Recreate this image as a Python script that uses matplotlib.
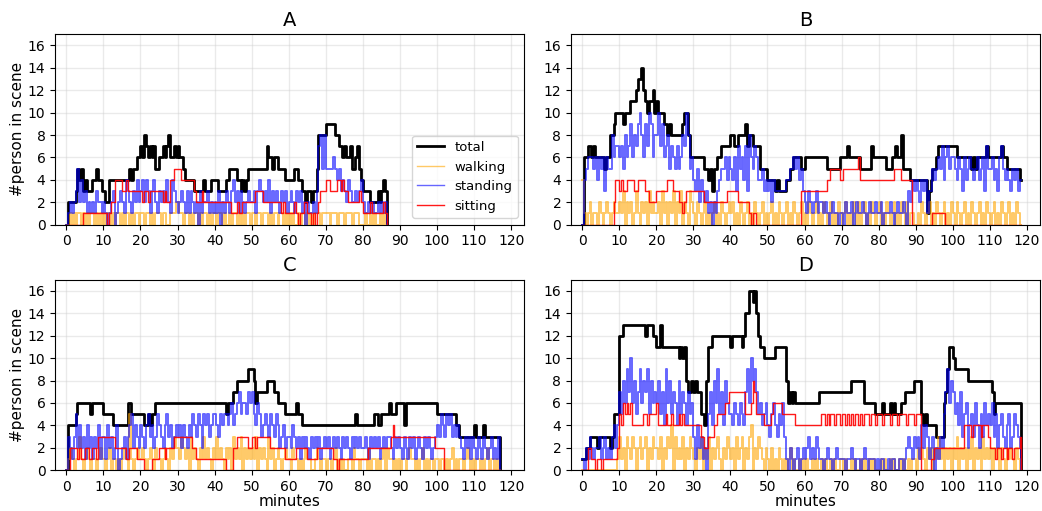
import numpy as np
import matplotlib
matplotlib.use("Agg")
import matplotlib.pyplot as plt

# counts sampled every 0.5 minute, one char per sample (base 17: a=10 ... g=16),
# each string below covers 10 minutes
STEP_MIN = 0.5

# ---------------- scene A ----------------
A_total = ["02222354534333445443", "32244444444444545566", "76876767556676786676",
           "76654444433333433344", "44333344555544343455", "55555555766566555544",
           "44455443323323358888", "99999887767667556754", "33332222323430"]
A_walking = ["00101011010101101010", "10110101101011010110", "11011010111011001112",
             "21101101011010110101", "10110100101101010110", "11011011101011011010",
             "10100101101010111011", "11011101110111011100", "01001010010100"]
A_standing = ["01212352423121213221", "21012301232143213242", "34243134213232421432",
              "12321313212031223121", "21302132134231321232", "23134323241323213231",
              "23213231202112137858", "55556545343243223234", "21121211212120"]
A_sitting = ["00000000011111111111", "11012244443343333333", "32332333333323224455",
             "55444444432223222222", "22222222211121122222", "22333322222222221211",
             "11121011221101012333", "44333344343322222232", "11112111111210"]

# ---------------- scene B ----------------
B_total = ["066776766666566889aa", "aa9aaabbbcddecbabbca", "baaa99898888889aa866",
           "66666655453556677777", "88778888978877775555", "44443433334455666655",
           "66666666666655555556", "66676666665555557666", "66665556676685555444",
           "44444413455677777777", "77666666665656666676", "666666766555555544"]
B_walking = ["41012011021012101211", "21302120131021203121", "12031202130213021032",
             "10210120101201021012", "12010210120102101201", "01201021012010210120",
             "10210120102101201021", "01201021020120102101", "20102101201021020110",
             "01021012010210120102", "10210120102101201021", "012010210120102100"]
B_standing = ["04566656465636558677", "67586796879a8697a968", "8a79678576575687a856",
              "43524323120213455646", "54637564738657644534", "34243333334455656453",
              "21321231221210121101", "10211201211210121121", "12011121012112103243",
              "43243413354565746756", "65465364565456456375", "564536754543545344"]
B_sitting = ["00000000000000000244", "34334444334444332222", "33333344433322123333",
             "33333322222222222233", "33332222221011000000", "00000000000000000033",
             "33333333333344555554", "45555555564444444444", "44444444555544444400",
             "00000000011111110000", "00000000000000000000", "000000000000000000"]

# ---------------- scene C ----------------
C_total = ["04444566666665666666", "55555444444446655555", "55445455666666666666",
           "66666666666666666666", "66666656667788888899", "98677777888877666655",
           "55556554444444444444", "44444444444444445444", "44444455445555655566",
           "66466666666666666666", "55555555554433333333", "433334333333330"]
C_walking = ["01210113101210110121", "10120110101210510121", "12101210211012102132",
             "21321203121021312102", "13121021203121302121", "21302121031201210121",
             "10211010121100121011", "01101201010011021101", "11020110101202110101",
             "01101211010120101101", "10110101201011012101", "011010120110100"]
C_standing = ["03213524231423132413", "31423124012313452432", "43245342354324534234",
              "34243243543542545345", "54354554564567566576", "75465345435435423423",
              "32432313232132323123", "23123232132321323232", "23213232312323321323",
              "21321323123213232123", "43543545343432132313", "213213212312130"]
C_sitting = ["00222212112211221333", "33333322222211222211", "11000011112221222233",
             "33333333221111111111", "11111100002233333322", "33233333332222222211",
             "11112222221111122222", "22221101111111111111", "11122222222222234333",
             "33333333333333333332", "22220000000000000000", "000000000000000"]

# ---------------- scene D ----------------
D_total = ["11223333233333323555", "ccddddddddddddcdddcc", "bbdbbbbbbbbbabab8778",
           "78775548bbcccccccccc", "bcccccbceeggfgecbbaa", "aaaabbbbbb8676766666",
           "66666666777777777777", "77777888888866666655", "55655565655566777778",
           "888545444443333679bb", "a9999999888888888888", "875666666666666660"]
D_walking = ["00000000000000000001", "31203213202312302132", "21302132403121302132",
             "10213021302123102132", "12031230213402132102", "10201021010120100101",
             "01001010010100101001", "10100101001010010100", "01010010100101001011",
             "02121021202131202120", "21302120213021203121", "202120210212102100"]
D_standing = ["10213212231231213424", "758697a6857968795867", "68574968576485764756",
              "31423120574869574865", "54654654796a89756456", "43564354631021012012",
              "12312132110121101211", "11011210110121011101", "01100101100110123213",
              "23142431230213257968", "75647356245364253645", "463524532452354320"]
D_sitting = ["00022110110111111112", "54656564444445545555", "64444544544454544444",
             "44443322333445555667", "77777777555687555544", "44566666555555544444",
             "44444444455454554554", "55454545545455545545", "55455545554555545554",
             "55500000112222222222", "22222244443444434443", "222122122122122230"]

PANELS = {
    "A": (A_total, A_walking, A_standing, A_sitting),
    "B": (B_total, B_walking, B_standing, B_sitting),
    "C": (C_total, C_walking, C_standing, C_sitting),
    "D": (D_total, D_walking, D_standing, D_sitting),
}

# label, colour, plot line width, alpha
SERIES_STYLE = [
    ("total", "black", 2.0, 1.0),
    ("walking", "orange", 1.4, 0.6),
    ("standing", "blue", 1.4, 0.6),
    ("sitting", "red", 1.0, 0.9),
]


def decode(chunks):
    s = "".join(chunks)
    v = np.array([int(c, 17) for c in s])
    t = np.arange(len(v)) * STEP_MIN
    return t, v


fig, axs = plt.subplots(2, 2, figsize=(10.42, 5.11), dpi=100)
fig.subplots_adjust(left=0.053, right=0.998, top=0.933, bottom=0.08,
                    wspace=0.1, hspace=0.29)

for ax, (name, series) in zip(axs.flat, PANELS.items()):
    for chunks, (label, color, lw, alpha) in zip(series, SERIES_STYLE):
        t, v = decode(chunks)
        ax.step(t, v, where="post", color=color, lw=lw, alpha=alpha, label=label)
    ax.set_title(name, fontsize=14)
    ax.set_xlim(-3, 123.5)
    ax.set_ylim(0, 17)
    ax.set_xticks(np.arange(0, 121, 10))
    ax.set_yticks(np.arange(0, 17, 2))
    ax.grid(True, color="#cccccc", lw=1, alpha=0.4)

for ax in axs[:, 0]:
    ax.set_ylabel("#person in scene", fontsize=11, labelpad=2)
for ax in axs[1, :]:
    ax.set_xlabel("minutes", fontsize=11, labelpad=0)

leg = axs[0, 0].legend(loc="lower right", fontsize=9.5)
# thinner legend keys for the noisy series, like the original
for line, (label, color, lw, alpha) in zip(leg.get_lines(), SERIES_STYLE):
    line.set_linewidth(2.0 if label == "total" else 1.0)

fig.savefig("out.png", dpi=100)
